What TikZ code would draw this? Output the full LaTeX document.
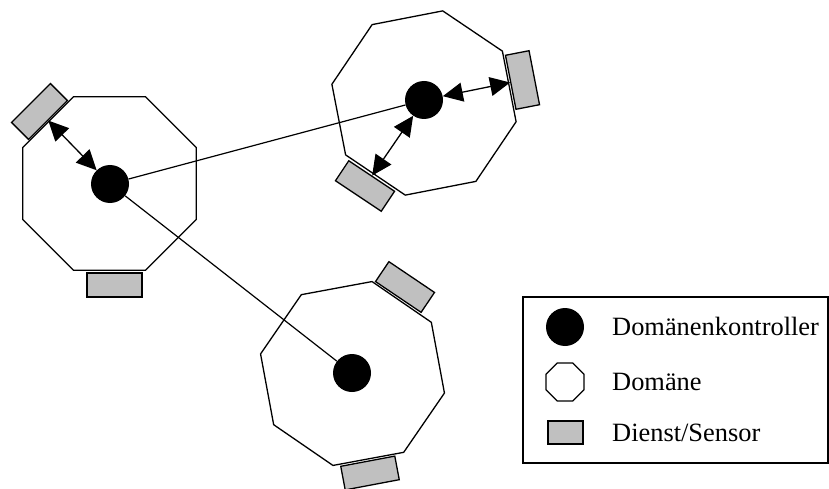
\documentclass[tikz,border=0pt]{standalone}
\usepackage{fontspec}
\setmainfont{Liberation Serif}
\usetikzlibrary{shapes.geometric,arrows.meta}
\definecolor{sensorgray}{HTML}{C0C0C0}
\begin{document}
\begin{tikzpicture}[x=1pt,y=-1pt,
  octo/.style={regular polygon,regular polygon sides=8,draw,fill=white,line width=1.3pt,inner sep=0pt,minimum size=188pt},
  ctrl/.style={circle,fill=black,inner sep=0pt,minimum size=38pt},
  sensor/.style={rectangle,draw,fill=sensorgray,line width=1.3pt,inner sep=0pt,minimum width=55pt,minimum height=24pt},
  link/.style={line width=1.2pt},
  dual/.style={line width=1.3pt,arrows={Triangle[length=20pt,width=19pt]-Triangle[length=20pt,width=19pt]}},
  legtext/.style={anchor=base west,font=\fontsize{26.4}{30}\selectfont,inner sep=0pt}]
\useasboundingbox (0,0) rectangle (829,489);

% domains
\node[octo] (d1) at (109.5,183.5) {};
\node[octo,rotate=11] (d2) at (424,103) {};
\node[octo,rotate=10.5] (d3) at (352.5,373.5) {};

% services / sensors
\node[sensor,rotate=45] (s1a) at (39.5,111.5) {};
\node[sensor] (s1b) at (114.5,285) {};
\node[sensor,rotate=101] (s2a) at (522.5,80) {};
\node[sensor,rotate=-33.7] (s2b) at (365,186) {};
\node[sensor,rotate=-34] (s3a) at (405,287) {};
\node[sensor,rotate=10.7] (s3b) at (370,473) {};

% controllers
\node[ctrl] (c1) at (110,184) {};
\node[ctrl] (c2) at (424,100) {};
\node[ctrl] (c3) at (352,373) {};

% controller links
\draw[link] (c1) -- (c2);
\draw[link] (c1) -- (c3);
\draw[dual] (c1) -- (s1a);
\draw[dual] (c2) -- (s2a);
\draw[dual] (c2) -- (s2b);

% legend
\draw[line width=1.3pt] (523,297) rectangle (828,463);
\node[ctrl] (lc) at (565,327) {};
\node[octo,minimum size=41pt] (ld) at (565,382) {};
\node[sensor,minimum width=35pt,minimum height=23pt] (ls) at (565.5,432.5) {};
\node[legtext] (t1) at (612,335) {Domänenkontroller};
\node[legtext] (t2) at (612,390) {Domäne};
\node[legtext] (t3) at (612,441.5) {Dienst/Sensor};
\end{tikzpicture}
\end{document}
